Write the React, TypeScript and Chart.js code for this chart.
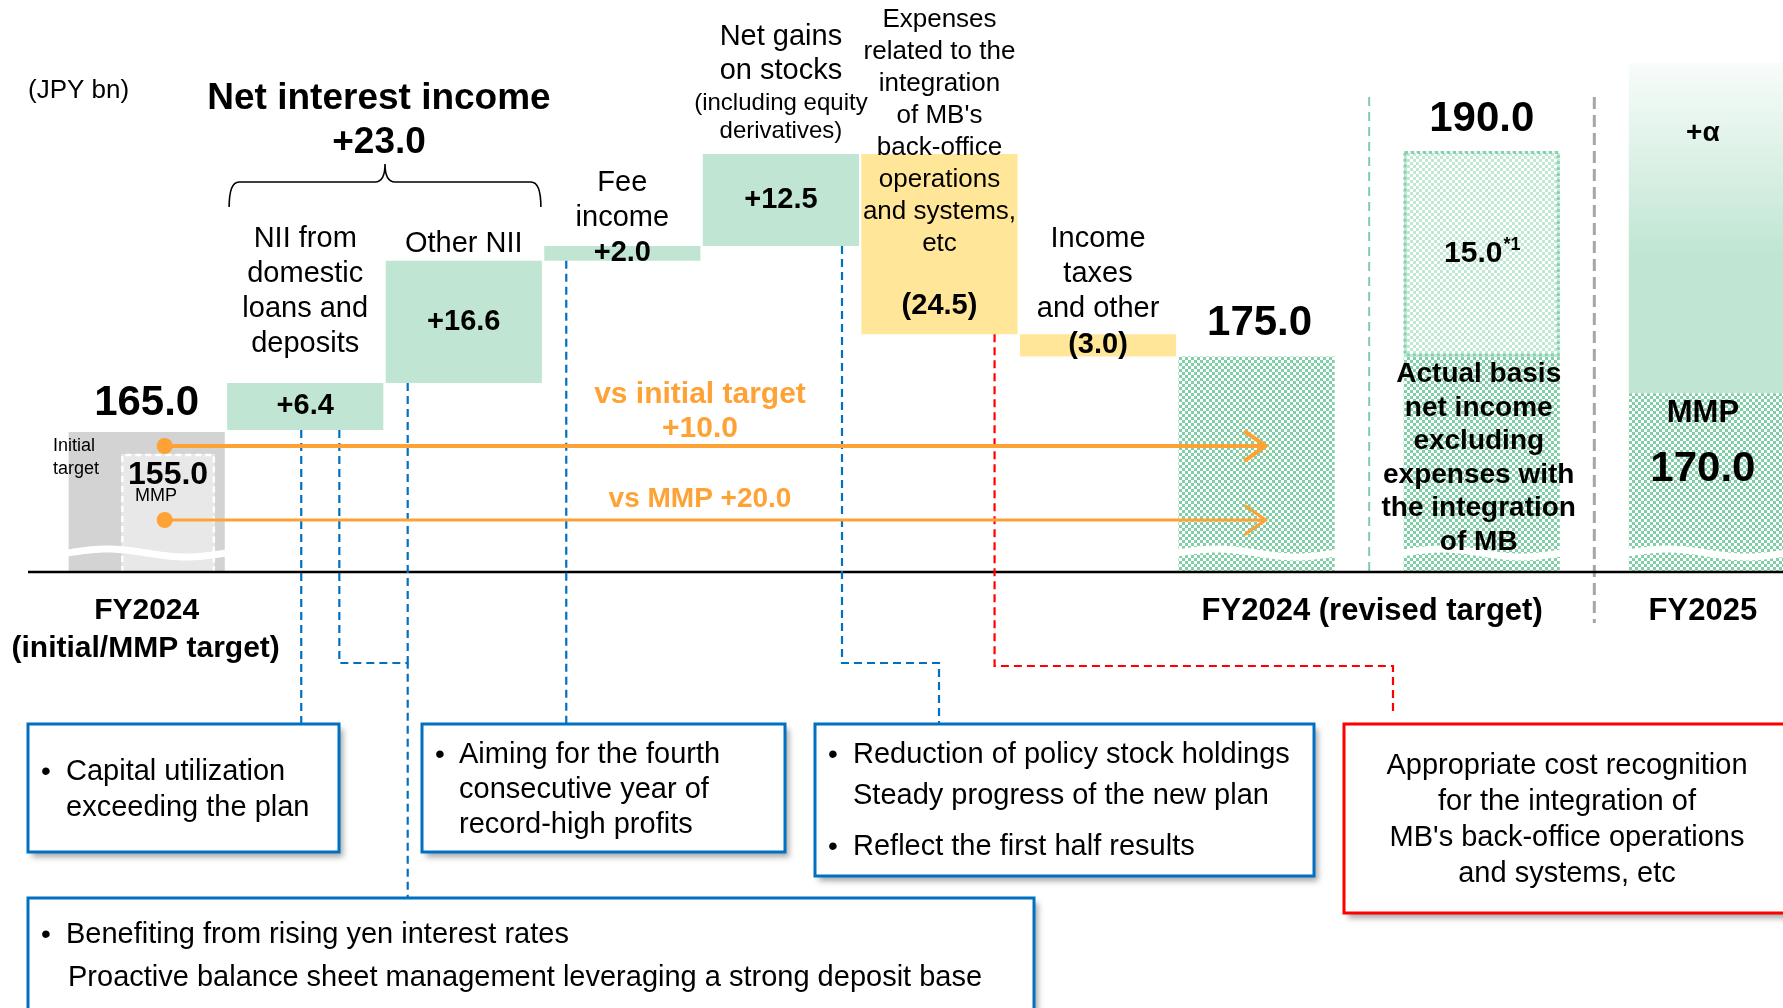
import React, { useEffect, useRef } from 'react';
import { Chart, registerables } from 'chart.js';

Chart.register(...registerables);

// ---------------- data ----------------
const unitNote = '(JPY bn)';
const initialTarget = 165.0;
const mmpTarget = 155.0;
const driverLabels: string[][] = [
  ['NII from', 'domestic', 'loans and', 'deposits'],
  ['Other NII'],
  ['Fee', 'income'],
  ['Net gains', 'on stocks'],
  ['Expenses', 'related to the', 'integration', "of MB's", 'back-office', 'operations', 'and systems,', 'etc'],
  ['Income', 'taxes', 'and other'],
];
const stocksSubLabel = ['(including equity', 'derivatives)'];
const driverDeltas = [6.4, 16.6, 2.0, 12.5, -24.5, -3.0];
const niiGroupLabel = 'Net interest income';
const revisedTarget = 175.0;
const integrationAddBack = 15.0;
const actualBasisLabel = ['Actual basis', 'net income', 'excluding', 'expenses with', 'the integration', 'of MB'];
const fy2025Mmp = 170.0;
const fy2025UpsideCeiling = 215.0;
const periodLabels = { initial: ['FY2024', '(initial/MMP target)'], revised: 'FY2024 (revised target)', next: 'FY2025' };
const noteCapital = ['Capital utilization', 'exceeding the plan'];
const noteRecord = ['Aiming for the fourth', 'consecutive year of', 'record-high profits'];
const noteStocks = ['Reduction of policy stock holdings', 'Steady progress of the new plan', 'Reflect the first half results'];
const noteRates = ['Benefiting from rising yen interest rates', 'Proactive balance sheet management leveraging a strong deposit base'];
const noteCost = ['Appropriate cost recognition', 'for the integration of', "MB's back-office operations", 'and systems, etc'];

// ---------------- derived ----------------
const actualBasisTarget = revisedTarget + integrationAddBack;
const SECTION_GAP = 0.42;
const xOf = (col: number) => col + (col >= 8 ? (col - 7) * SECTION_GAP : 0);

const floats: number[][] = [];
{
  let run = initialTarget;
  driverDeltas.forEach((d) => {
    const s = run;
    run = Math.round((run + d) * 10) / 10;
    floats.push([s, run]);
  });
}
const increaseData: any[] = [];
const decreaseData: any[] = [];
const driverRef: number[][] = [];
driverDeltas.forEach((d, i) => {
  const pt = { x: xOf(i + 1), y: floats[i] };
  if (d > 0) { driverRef.push([2, increaseData.length]); increaseData.push(pt); }
  else { driverRef.push([3, decreaseData.length]); decreaseData.push(pt); }
});

const FONT = '"Liberation Sans", Arial, Helvetica, sans-serif';
const ORANGE = '#ffa235';
const BLUE = '#0070c0';
const RED = '#ff0000';
const MMP_SHIFT = 0.135;

function makeChecker(ctx: CanvasRenderingContext2D, c1: string, c2: string, cell: number) {
  const cv = document.createElement('canvas');
  cv.width = cell * 2; cv.height = cell * 2;
  const g = cv.getContext('2d')!;
  g.fillStyle = c2; g.fillRect(0, 0, cell * 2, cell * 2);
  g.fillStyle = c1; g.fillRect(0, 0, cell, cell); g.fillRect(cell, cell, cell, cell);
  return ctx.createPattern(cv, 'repeat')!;
}

const annotate = {
  id: 'annotate',
  afterDatasetsDraw(chart: any) {
    const ctx: CanvasRenderingContext2D = chart.ctx;
    const ca = chart.chartArea;
    const rect = (di: number, idx: number) => {
      const el = chart.getDatasetMeta(di).data[idx];
      const p = el.getProps(['x', 'y', 'base', 'width'], true);
      const top = Math.min(p.y, p.base);
      const bottom = Math.min(Math.max(p.y, p.base), ca.bottom);
      return { cx: p.x, left: p.x - p.width / 2, right: p.x + p.width / 2, top, bottom, w: p.width };
    };
    const T = (s: string, x: number, y: number, size: number, bold = false, align: CanvasTextAlign = 'center', color = '#000') => {
      ctx.font = `${bold ? 'bold ' : ''}${size}px ${FONT}`;
      ctx.fillStyle = color; ctx.textAlign = align; ctx.textBaseline = 'middle';
      ctx.fillText(s, x, y);
    };
    const rMmp = rect(0, 0), rInit = rect(1, 0);
    const rDrv = driverRef.map(([d, i]) => rect(d, i));
    const r7 = rect(4, 0), r8a = rect(5, 0), r8b = rect(6, 0), r9 = rect(7, 0), r9b = rect(8, 0);

    // MMP box dashed white border
    ctx.save();
    ctx.strokeStyle = '#fff'; ctx.lineWidth = 2.5; ctx.setLineDash([6, 4]);
    ctx.beginPath();
    ctx.moveTo(rMmp.left + 1, ca.bottom); ctx.lineTo(rMmp.left + 1, rMmp.top + 1);
    ctx.lineTo(rMmp.right - 1, rMmp.top + 1); ctx.lineTo(rMmp.right - 1, ca.bottom);
    ctx.stroke();
    ctx.restore();

    // add-back dotted border
    ctx.save();
    ctx.strokeStyle = '#86d0ab'; ctx.lineWidth = 3; ctx.setLineDash([3, 3]);
    ctx.strokeRect(r8b.left + 1.5, r8b.top + 1.5, r8b.w - 3, r8b.bottom - r8b.top - 3);
    ctx.restore();

    // axis-break waves
    const wave = (r: any) => {
      const wy = ca.bottom - 19;
      ctx.save(); ctx.strokeStyle = '#fff'; ctx.lineWidth = 7; ctx.beginPath();
      for (let k = 0; k <= 40; k++) {
        const t = k / 40;
        const x = r.left - 1 + t * (r.w + 2);
        const y = wy - 4 * Math.sin(2 * Math.PI * t);
        if (k) ctx.lineTo(x, y); else ctx.moveTo(x, y);
      }
      ctx.stroke(); ctx.restore();
    };
    [rInit, r7, r8a, r9].forEach(wave);

    // separators
    const gx = (r7.right + r8a.left) / 2;
    const sx = (r8a.right + r9.left) / 2;
    ctx.save();
    ctx.strokeStyle = '#7fcea6'; ctx.lineWidth = 2; ctx.setLineDash([9, 6]);
    ctx.beginPath(); ctx.moveTo(gx, 97); ctx.lineTo(gx, ca.bottom); ctx.stroke();
    ctx.strokeStyle = '#a6a6a6'; ctx.lineWidth = 3; ctx.setLineDash([12, 6]);
    ctx.beginPath(); ctx.moveTo(sx, 97); ctx.lineTo(sx, 623); ctx.stroke();
    ctx.restore();

    // baseline
    ctx.save(); ctx.strokeStyle = '#000'; ctx.lineWidth = 2.5;
    ctx.beginPath(); ctx.moveTo(28, ca.bottom); ctx.lineTo(chart.width, ca.bottom); ctx.stroke(); ctx.restore();

    // connectors
    const path = (pts: number[][], color: string) => {
      ctx.save(); ctx.strokeStyle = color; ctx.lineWidth = 2.2; ctx.setLineDash([8, 5]);
      ctx.beginPath();
      pts.forEach(([x, y], k) => (k ? ctx.lineTo(x, y) : ctx.moveTo(x, y)));
      ctx.stroke(); ctx.restore();
    };
    const d0 = rDrv[0], d1 = rDrv[1], d2 = rDrv[2], d3 = rDrv[3], d4 = rDrv[4];
    path([[d0.cx - 4, d0.bottom], [d0.cx - 4, 724]], BLUE);
    path([[d0.right - 44, d0.bottom], [d0.right - 44, 663], [d1.left + 22, 663], [d1.left + 22, 898]], BLUE);
    path([[d1.left + 22, d1.bottom], [d1.left + 22, 663]], BLUE);
    path([[d2.left + 22, d2.bottom], [d2.left + 22, 724]], BLUE);
    path([[d3.right - 17, d3.bottom], [d3.right - 17, 663], [939, 663], [939, 724]], BLUE);
    path([[d4.right - 23, d4.bottom], [d4.right - 23, 666], [1393, 666], [1393, 714]], RED);

    // comment boxes
    const box = (x: number, y: number, w: number, h: number, color: string) => {
      ctx.save();
      ctx.shadowColor = 'rgba(0,0,0,0.35)'; ctx.shadowBlur = 6; ctx.shadowOffsetX = 4; ctx.shadowOffsetY = 5;
      ctx.fillStyle = '#fff'; ctx.fillRect(x, y, w, h);
      ctx.restore();
      ctx.save(); ctx.strokeStyle = color; ctx.lineWidth = 3; ctx.strokeRect(x, y, w, h); ctx.restore();
    };
    const bullet = (x: number, y: number) => T('•', x, y, 28, false, 'left');
    box(28, 724, 311, 128, BLUE);
    bullet(41, 772); T(noteCapital[0], 66, 772, 29, false, 'left'); T(noteCapital[1], 66, 808, 29, false, 'left');
    box(422, 724, 363, 128, BLUE);
    bullet(435, 755);
    noteRecord.forEach((s, k) => T(s, 459, 755 + 35 * k, 29, false, 'left'));
    box(815, 724, 499, 152, BLUE);
    bullet(828, 755); T(noteStocks[0], 853, 755, 29, false, 'left');
    T(noteStocks[1], 853, 796, 29, false, 'left');
    bullet(828, 847); T(noteStocks[2], 853, 847, 29, false, 'left');
    box(28, 898, 1006, 140, BLUE);
    bullet(41, 935); T(noteRates[0], 66, 935, 29, false, 'left'); T(noteRates[1], 68, 978, 29, false, 'left');
    box(1344, 724, 470, 189, RED);
    noteCost.forEach((s, k) => T(s, 1567, 766 + 36 * k, 29));

    // header
    T(unitNote, 28, 91, 26, false, 'left');
    T(niiGroupLabel, 379, 99, 37, true);
    T(`+${(driverDeltas[0] + driverDeltas[1]).toFixed(1)}`, 379, 143, 37, true);
    // brace
    {
      const l = d0.left + 2, r = d1.right - 1, c = (l + r) / 2, y = 182, rad = 10;
      ctx.save(); ctx.strokeStyle = '#000'; ctx.lineWidth = 1.6; ctx.beginPath();
      ctx.moveTo(l, 207); ctx.quadraticCurveTo(l, y, l + rad, y);
      ctx.lineTo(c - rad, y); ctx.quadraticCurveTo(c, y, c, 164);
      ctx.quadraticCurveTo(c, y, c + rad, y);
      ctx.lineTo(r - rad, y); ctx.quadraticCurveTo(r, y, r, 207);
      ctx.stroke(); ctx.restore();
    }

    // driver labels
    const above = (r: any, lines: string[], size: number, spacing: number, gap: number) =>
      lines.forEach((s, k) => T(s, r.cx, r.top - gap - (lines.length - 1 - k) * spacing, size));
    above(d0, driverLabels[0], 29, 35, 39);
    above(d1, driverLabels[1], 29, 35, 17);
    above(d2, driverLabels[2], 29, 35, 28);
    above(d3, stocksSubLabel, 24, 28, 23);
    above(d3, driverLabels[3], 29, 34, 83);
    driverLabels[4].forEach((s, k) => T(s, d4.cx, 20 + 32 * k, 26));
    above(rDrv[5], driverLabels[5], 29, 35, 25);
    driverDeltas.forEach((d, i) => {
      const r = rDrv[i];
      const s = d > 0 ? `+${d.toFixed(1)}` : `(${Math.abs(d).toFixed(1)})`;
      const y = i === 4 ? r.bottom - 28 : (r.top + r.bottom) / 2;
      T(s, r.cx, y, 29, true);
    });

    // totals
    T(initialTarget.toFixed(1), rInit.cx, rInit.top - 29, 42, true);
    T('Initial', 53, rInit.top + 14, 18, false, 'left');
    T('target', 53, rInit.top + 37, 18, false, 'left');
    T(mmpTarget.toFixed(1), rMmp.cx, rMmp.top + 21, 32, true);
    T('MMP', rMmp.cx - 12, rMmp.top + 42, 18);
    T(revisedTarget.toFixed(1), r7.cx + 3, r7.top - 33, 42, true);
    T(actualBasisTarget.toFixed(1), r8b.cx, r8b.top - 32, 42, true);
    {
      const a = integrationAddBack.toFixed(1), b = '*1';
      ctx.font = `bold 30px ${FONT}`; const wa = ctx.measureText(a).width;
      ctx.font = `bold 18px ${FONT}`; const wb = ctx.measureText(b).width;
      const x0 = r8b.cx - (wa + wb) / 2, yc = (r8b.top + r8b.bottom) / 2;
      T(a, x0, yc, 30, true, 'left');
      T(b, x0 + wa + 1, yc - 9, 18, true, 'left');
    }
    actualBasisLabel.forEach((s, k) => T(s, r8a.cx - 3, r8a.top + 18 + 33.5 * k, 28, true));
    T('+α', r9b.cx - 4, ca.top + 70, 28, true);
    T('MMP', r9.cx - 4, r9.top + 20, 31, true);
    T(fy2025Mmp.toFixed(1), r9.cx - 4, r9.top + 76, 42, true);

    // period labels
    T(periodLabels.initial[0], rInit.cx, 611, 30, true);
    T(periodLabels.initial[1], rInit.cx - 1, 649, 30, true);
    T(periodLabels.revised, gx + 3, 611, 31, true);
    T(periodLabels.next, r9.cx - 4, 611, 31, true);

    // orange comparison arrows
    const yA1 = rInit.top + 14, yA2 = rMmp.top + 66;
    const x0 = rInit.cx + 18, x1 = r7.cx + 9;
    const arrow = (y: number, lw: number) => {
      ctx.save(); ctx.strokeStyle = ORANGE; ctx.fillStyle = ORANGE; ctx.lineWidth = lw; ctx.lineCap = 'round';
      ctx.beginPath(); ctx.moveTo(x0, y); ctx.lineTo(x1, y); ctx.stroke();
      ctx.beginPath(); ctx.moveTo(x1 - 20, y - 14); ctx.lineTo(x1, y); ctx.lineTo(x1 - 20, y + 14); ctx.stroke();
      ctx.beginPath(); ctx.arc(x0, y, 8, 0, Math.PI * 2); ctx.fill();
      ctx.restore();
    };
    arrow(yA1, 4);
    arrow(yA2, 3);
    T('vs initial target', 700, yA1 - 51, 30, true, 'center', ORANGE);
    T(`+${(revisedTarget - initialTarget).toFixed(1)}`, 700, yA1 - 17, 30, true, 'center', ORANGE);
    T(`vs MMP +${(revisedTarget - mmpTarget).toFixed(1)}`, 700, yA2 - 21, 28, true, 'center', ORANGE);
  },
};

export default function App() {
  const ref = useRef<HTMLCanvasElement>(null);
  useEffect(() => {
    const canvas = ref.current!;
    const ctx = canvas.getContext('2d')!;
    const dense = makeChecker(ctx, '#80cfa7', '#ffffff', 3);
    const light = makeChecker(ctx, '#c0e9d3', '#ffffff', 3);
    const common = { grouped: false, barPercentage: 1, categoryPercentage: 0.985, borderWidth: 0, clip: 0, xAxisID: 'x', yAxisID: 'y' };
    const upsideFill = (c: any) => {
      const chart = c.chart; const ca = chart.chartArea;
      if (!ca) return '#c0e6d3';
      const bottom = chart.scales.y.getPixelForValue(fy2025Mmp);
      const g = chart.ctx.createLinearGradient(0, ca.top, 0, bottom);
      g.addColorStop(0, '#f8fcfa'); g.addColorStop(0.58, '#c0e6d3'); g.addColorStop(1, '#c0e6d3');
      return g;
    };
    const axisBase = { type: 'linear', display: false, bounds: 'data', offset: false, grid: { offset: false }, ticks: { stepSize: 1, includeBounds: false } };
    const chart = new Chart(canvas, {
      type: 'bar',
      data: {
        datasets: [
          { ...common, label: 'MMP target', data: [{ x: xOf(0), y: mmpTarget }], backgroundColor: '#e8e8e8', xAxisID: 'xm', yAxisID: 'y3', barPercentage: 0.73 },
          { ...common, label: 'Initial target', data: [{ x: xOf(0), y: initialTarget }], backgroundColor: '#d3d3d3', yAxisID: 'y3' },
          { ...common, label: 'Increase', data: increaseData, backgroundColor: '#c0e6d3' },
          { ...common, label: 'Decrease', data: decreaseData, backgroundColor: '#ffe699' },
          { ...common, label: 'FY2024 revised target', data: [{ x: xOf(7), y: revisedTarget }], backgroundColor: dense },
          { ...common, label: 'Actual basis', data: [{ x: xOf(8), y: revisedTarget }], backgroundColor: dense, yAxisID: 'y2' },
          { ...common, label: 'Integration expenses', data: [{ x: xOf(8), y: [revisedTarget, actualBasisTarget] }], backgroundColor: light, yAxisID: 'y2' },
          { ...common, label: 'FY2025 MMP', data: [{ x: xOf(9), y: fy2025Mmp }], backgroundColor: dense },
          { ...common, label: 'FY2025 upside', data: [{ x: xOf(9), y: [fy2025Mmp, fy2025UpsideCeiling] }], backgroundColor: upsideFill },
        ] as any,
      },
      options: {
        responsive: false,
        animation: false,
        events: [],
        layout: { padding: { left: 67.4, right: 0, top: 63, bottom: 436 } },
        plugins: { legend: { display: false }, tooltip: { enabled: false } },
        scales: {
          x: { ...axisBase, min: -0.5, max: 10.32 },
          xm: { ...axisBase, min: -0.5 - MMP_SHIFT, max: 10.32 - MMP_SHIFT },
          y: { type: 'linear', display: false, bounds: 'data', beginAtZero: false, min: 145.71, max: 214.86 },
          y2: { type: 'linear', display: false, bounds: 'data', beginAtZero: false, min: 159.255, max: 196.43 },
          y3: { type: 'linear', display: false, bounds: 'data', beginAtZero: false, min: 101.36, max: 332.73 },
        } as any,
      },
      plugins: [annotate],
    });
    return () => chart.destroy();
  }, []);
  return (
    <div style={{ position: 'absolute', left: 0, top: 0, width: 1783, height: 1008, background: '#fff', overflow: 'hidden' }}>
      <canvas ref={ref} width={1783} height={1008} style={{ display: 'block' }} />
    </div>
  );
}
